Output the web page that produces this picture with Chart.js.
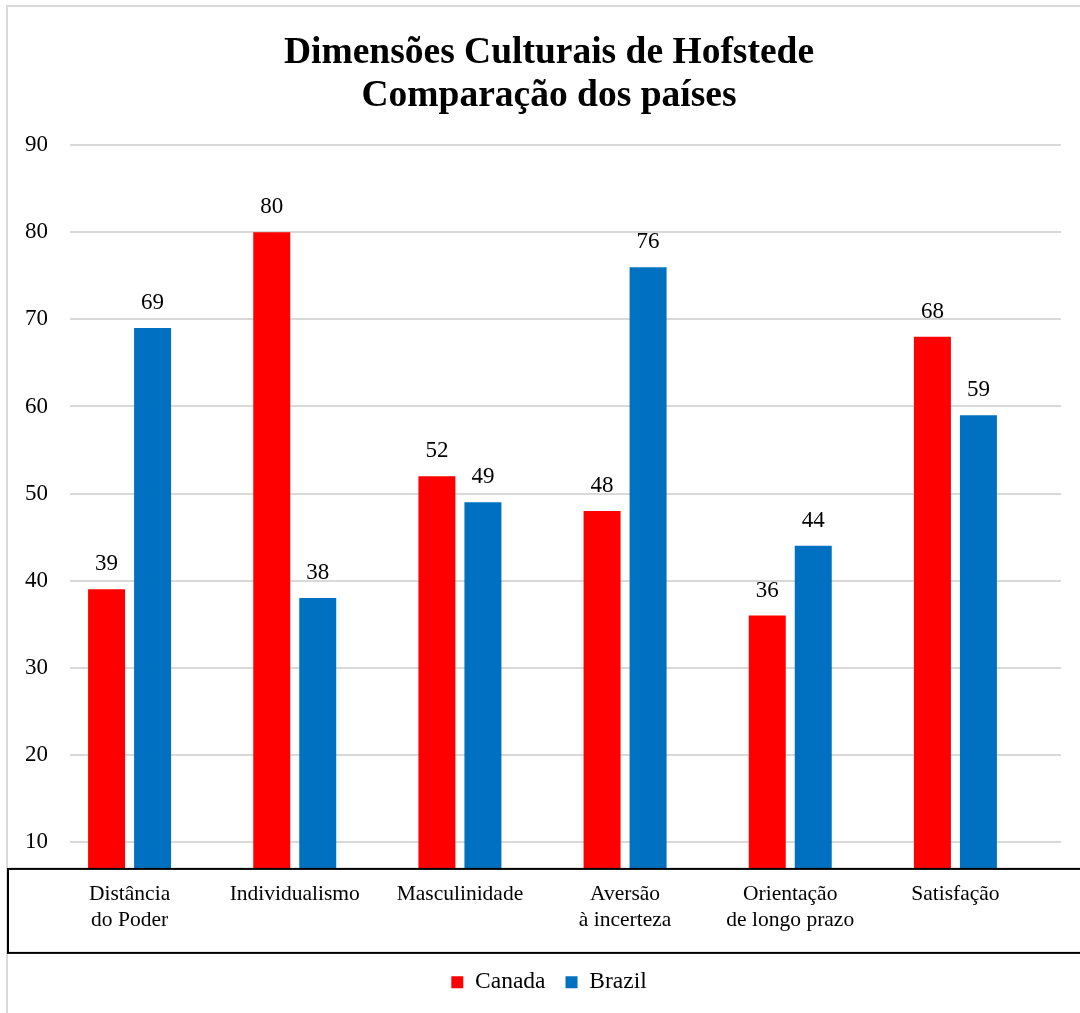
<!DOCTYPE html>
<html>
<head>
<meta charset="utf-8">
<script src="https://cdn.jsdelivr.net/npm/chart.js@4"></script>
<style>
  html, body { margin: 0; padding: 0; background: #fff; }
  #wrap { width: 1080px; height: 1013px; position: relative; }
</style>
</head>
<body>
<div id="wrap"><canvas id="chart" width="1080" height="1013"></canvas></div>
<script>
const categories = [['Distância', 'do Poder'], 'Individualismo', 'Masculinidade', ['Aversão', 'à incerteza'], ['Orientação', 'de longo prazo'], 'Satisfação'];
const canada = [39, 80, 52, 48, 36, 68];
const brazil = [69, 38, 49, 76, 44, 59];
const yTicks = [10, 20, 30, 40, 50, 60, 70, 80, 90];
const titleLines = ['Dimensões Culturais de Hofstede', 'Comparação dos países'];

const SERIF = "'Liberation Serif', 'Times New Roman', serif";

// frame, grid lines, value labels and the box around the category labels
const decor = {
  id: 'decor',
  afterLayout(c) {
    // push the legend a little lower, closer to where the original sits
    c.legend.top += 12;
    c.legend.bottom += 12;
  },
  beforeDraw(c) {
    const ctx = c.ctx;
    ctx.save();
    ctx.strokeStyle = '#d9d9d9';
    ctx.lineWidth = 2;
    ctx.strokeRect(7, 6, 1200, 1200);
    ctx.restore();
  },
  beforeDatasetsDraw(c) {
    const ctx = c.ctx, y = c.scales.y;
    ctx.save();
    ctx.strokeStyle = '#d9d9d9';
    ctx.lineWidth = 2;
    yTicks.forEach(v => {
      const py = Math.round(y.getPixelForValue(v));
      ctx.beginPath();
      ctx.moveTo(70, py);
      ctx.lineTo(1061, py);
      ctx.stroke();
    });
    ctx.restore();
  },
  afterDatasetsDraw(c) {
    const ctx = c.ctx;
    ctx.save();
    ctx.fillStyle = '#000';
    ctx.font = '23px ' + SERIF;
    ctx.textAlign = 'center';
    ctx.textBaseline = 'middle';
    c.data.datasets.forEach((ds, i) => {
      c.getDatasetMeta(i).data.forEach((bar, j) => {
        ctx.fillText(String(ds.data[j]), bar.x, bar.y - 25);
      });
    });
    const a = c.chartArea;
    ctx.strokeStyle = '#000';
    ctx.lineWidth = 2;
    ctx.strokeRect(8, a.bottom, 1100, 84);
    ctx.restore();
  }
};

new Chart(document.getElementById('chart'), {
  type: 'bar',
  data: {
    labels: categories,
    datasets: [
      { label: 'Canada', data: canada, backgroundColor: '#ff0000' },
      { label: 'Brazil', data: brazil, backgroundColor: '#0070c0' }
    ]
  },
  options: {
    responsive: false,
    animation: false,
    layout: { padding: { left: 18, right: 0, top: 0, bottom: 21 } },
    datasets: { bar: { categoryPercentage: 0.557, barPercentage: 0.804 } },
    scales: {
      x: {
        grid: { display: false },
        border: { display: false },
        ticks: { color: '#000', font: { family: SERIF, size: 21.5, lineHeight: 1.2 }, padding: 5, maxRotation: 0 }
      },
      y: {
        min: 6.9,
        max: 90,
        grid: { display: false, tickLength: 0 },
        border: { display: false },
        afterBuildTicks: s => { s.ticks = yTicks.map(v => ({ value: v })); },
        afterFit: s => { s.width = 29; },
        ticks: { color: '#000', font: { family: SERIF, size: 23 }, padding: -1 }
      },
      yr: {
        position: 'right',
        display: true,
        grid: { display: false },
        border: { display: false },
        ticks: { display: false },
        afterFit: s => { s.width = 42; }
      }
    },
    plugins: {
      title: {
        display: true,
        text: titleLines,
        color: '#000',
        font: { family: SERIF, size: 37.5, weight: 'bold', lineHeight: 1.15 },
        padding: { top: 32, bottom: 27 }
      },
      legend: {
        position: 'bottom',
        labels: { color: '#000', font: { family: SERIF, size: 23.5 }, boxWidth: 12, boxHeight: 12, padding: 20 }
      },
      tooltip: { enabled: false }
    }
  },
  plugins: [decor]
});
</script>
</body>
</html>
